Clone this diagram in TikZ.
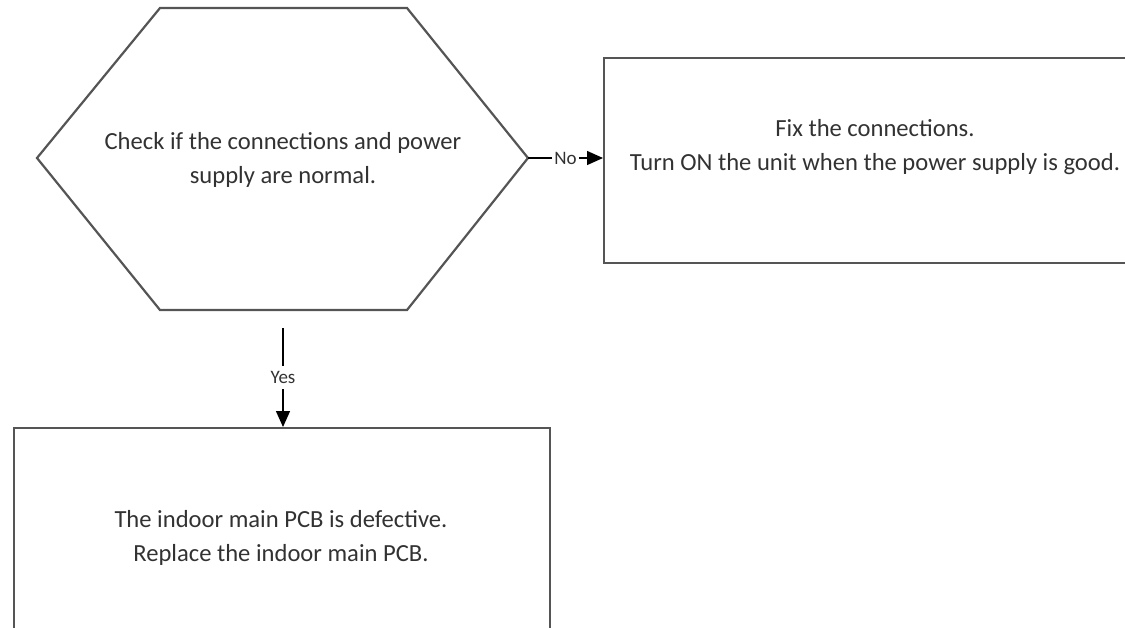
\documentclass[tikz,border=0pt]{standalone}
\usepackage{fontspec}
\setmainfont{Carlito}
\usepackage{xcolor}
\definecolor{linegray}{RGB}{85, 85, 85}
\definecolor{textgray}{RGB}{50, 50, 50}
\usetikzlibrary{arrows.meta, positioning}

\begin{document}
\begin{tikzpicture}[x=1pt, y=-1pt]
  \tikzstyle{block} = [rectangle, draw=linegray, line width=2.2pt, inner sep=0pt]
  \tikzstyle{txt} = [text=textgray, align=center, font=\fontsize{24.6}{34}\selectfont]
  \tikzstyle{arrow} = [line width=1.4pt, -{Triangle[length=16pt, width=14pt]}]
  \tikzstyle{lbl} = [fill=white, text=textgray, font=\fontsize{19}{20}\selectfont, inner xsep=2pt, inner ysep=5pt]

  \useasboundingbox (0,0) rectangle (1125,627);

  % decision hexagon
  \coordinate (hexW) at (37,158);
  \coordinate (hexE) at (528,158);
  \coordinate (hexS) at (283,310);
  \draw [draw=linegray, line width=2.2pt] (hexW) -- (160,8) -- (407,8) -- (hexE) -- (407,310) -- (160,310) -- cycle;
  \node [txt] (check) at (283,160) {Check if the connections and power\\ supply are normal.};

  % outcome boxes
  \node [block, minimum width=532pt, minimum height=205pt, anchor=north west] (fixbox) at (603,57) {};
  \node [txt] (fixtxt) at (875,147) {Fix the connections.\\ Turn ON the unit when the power supply is good.};

  \node [block, minimum width=536pt, minimum height=225pt, anchor=north west] (pcbbox) at (13,427) {};
  \node [txt] (pcbtxt) at (281,538) {The indoor main PCB is defective.\\ Replace the indoor main PCB.};

  \coordinate [yshift=-18pt] (yestop) at (hexS);

  \draw [arrow] (hexE) -- node [lbl] (no) {No} (hexE -| fixbox.west);
  \draw [arrow] (yestop) -- node [lbl] (yes) {Yes} (yestop |- pcbbox.north);
\end{tikzpicture}
\end{document}
